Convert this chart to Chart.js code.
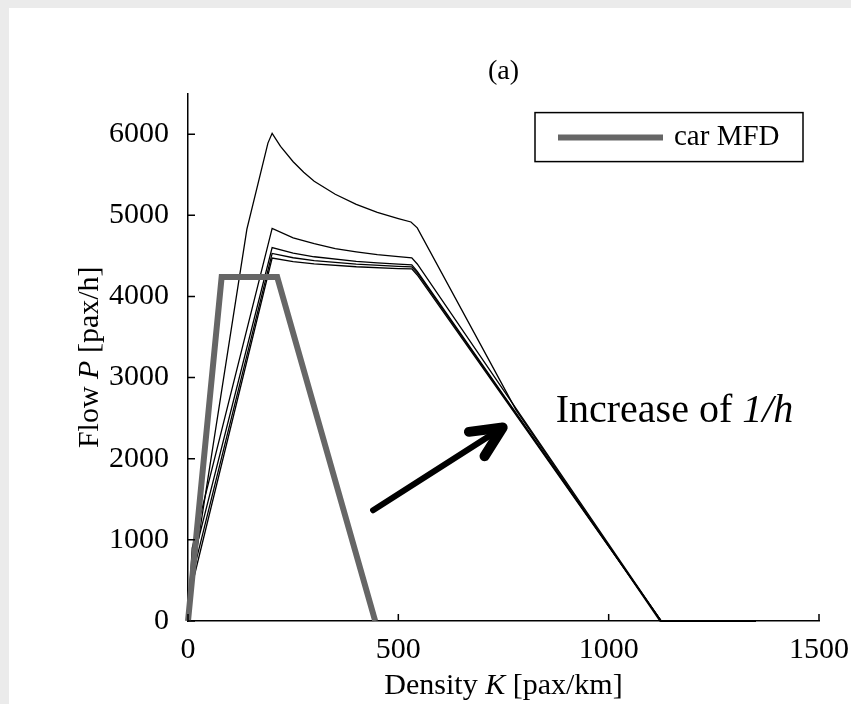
<!DOCTYPE html>
<html>
<head>
<meta charset="utf-8">
<script src="https://cdn.jsdelivr.net/npm/chart.js@4.4.1/dist/chart.umd.min.js"></script>
<style>
html, body { margin: 0; padding: 0; background: #ebebeb; width: 851px; height: 704px; overflow: hidden; }
#panel { position: absolute; left: 9px; top: 8px; width: 842px; height: 696px; background: #fff; }
</style>
</head>
<body>
<div id="panel"><canvas id="myChart" width="842" height="696"></canvas></div>
<script>
const xTicks = [0, 500, 1000, 1500];
const yTicks = [0, 1000, 2000, 3000, 4000, 5000, 6000];

// car MFD (grey trapezoid)
const carK = [0, 80, 212, 445];
const carP = [0, 4240, 4240, 0];

// passenger MFD curves, one per value of 1/h
const k1 = [0, 8, 140, 190, 200, 220, 250, 275, 300, 350, 400, 450, 500, 530, 545, 780, 1122, 1350];
const p1 = [0, 450, 4830, 5890, 6010, 5850, 5660, 5530, 5420, 5260, 5135, 5035, 4960, 4918, 4845, 2600, 0, 0];
const k2 = [0, 10, 200, 250, 300, 350, 400, 450, 500, 532, 545, 1125, 1350];
const p2 = [0, 900, 4840, 4723, 4650, 4590, 4550, 4515, 4490, 4476, 4400, 0, 0];
const k3 = [0, 10, 200, 250, 300, 400, 450, 500, 532, 545, 1125, 1350];
const p3 = [0, 700, 4603, 4535, 4489, 4432, 4413, 4398, 4390, 4310, 0, 0];
const k4 = [0, 10, 200, 250, 300, 400, 500, 532, 545, 1125, 1350];
const p4 = [0, 550, 4530, 4477, 4442, 4398, 4371, 4365, 4290, 0, 0];
const k5 = [0, 10, 200, 250, 300, 400, 500, 532, 545, 1125, 1350];
const p5 = [0, 450, 4473, 4430, 4401, 4366, 4344, 4340, 4265, 0, 0];

const serif = "'Liberation Serif', 'Times New Roman', serif";
Chart.defaults.font.family = serif;
Chart.defaults.font.size = 30;
Chart.defaults.color = '#000';

const toPoints = (ks, ps) => ks.map((k, i) => ({ x: k, y: ps[i] }));

function blackLine(ks, ps, name) {
    return {
        label: name,
        data: toPoints(ks, ps),
        borderColor: '#000',
        borderWidth: 1.3,
        pointRadius: 0,
        tension: 0,
        clip: false
    };
}

// text with italic pieces, parts = [[text, italic], ...]
function drawParts(ctx, parts, x, y, size, align) {
    const fonts = parts.map(p => (p[1] ? 'italic ' : '') + size + 'px ' + serif);
    let w = 0;
    parts.forEach((p, i) => { ctx.font = fonts[i]; w += ctx.measureText(p[0]).width; });
    let cx = align === 'center' ? x - w / 2 : x;
    ctx.textAlign = 'left';
    ctx.textBaseline = 'middle';
    parts.forEach((p, i) => {
        ctx.font = fonts[i];
        ctx.fillText(p[0], cx, y);
        cx += ctx.measureText(p[0]).width;
    });
}

const arrowFrom = [440, 1365];
const arrowTo = [748, 2385];
const notePos = [874, 2580];

const extras = {
    id: 'extras',
    afterDraw(chart) {
        const { ctx, chartArea: a, scales: { x, y } } = chart;
        ctx.save();
        ctx.fillStyle = '#000';
        ctx.strokeStyle = '#000';

        // ticks pointing inside
        ctx.lineWidth = 1.5;
        ctx.beginPath();
        xTicks.forEach(v => {
            const px = x.getPixelForValue(v);
            ctx.moveTo(px, a.bottom);
            ctx.lineTo(px, a.bottom - 7);
        });
        yTicks.forEach(v => {
            const py = y.getPixelForValue(v);
            ctx.moveTo(a.left, py);
            ctx.lineTo(a.left + 7, py);
        });
        ctx.stroke();

        // axis titles
        drawParts(ctx, [['Density ', 0], ['K', 1], [' [pax/km]', 0]], (a.left + a.right) / 2, 678, 30, 'center');
        ctx.save();
        ctx.translate(81, (a.top + a.bottom) / 2);
        ctx.rotate(-Math.PI / 2);
        drawParts(ctx, [['Flow ', 0], ['P', 1], [' [pax/h]', 0]], 0, 0, 30, 'center');
        ctx.restore();

        // legend
        const car = chart.data.datasets[0];
        const lx = a.right - 284, ly = a.top + 19;
        ctx.fillStyle = '#fff';
        ctx.fillRect(lx, ly, 268, 49);
        ctx.lineWidth = 1.5;
        ctx.strokeRect(lx, ly, 268, 49);
        ctx.strokeStyle = car.borderColor;
        ctx.lineWidth = car.borderWidth;
        ctx.beginPath();
        ctx.moveTo(lx + 23, ly + 25);
        ctx.lineTo(lx + 128, ly + 25);
        ctx.stroke();
        ctx.fillStyle = '#000';
        drawParts(ctx, [[car.label, 0]], lx + 139, ly + 25, 29, 'left');

        // arrow
        const x0 = x.getPixelForValue(arrowFrom[0]), y0 = y.getPixelForValue(arrowFrom[1]);
        const x1 = x.getPixelForValue(arrowTo[0]), y1 = y.getPixelForValue(arrowTo[1]);
        const ang = Math.atan2(y1 - y0, x1 - x0);
        ctx.strokeStyle = '#000';
        ctx.lineCap = 'round';
        ctx.lineWidth = 6;
        ctx.beginPath();
        ctx.moveTo(x0, y0);
        ctx.lineTo(x1 - 4 * Math.cos(ang), y1 - 4 * Math.sin(ang));
        ctx.stroke();
        ctx.lineWidth = 10;
        ctx.beginPath();
        [0.44, -0.44].forEach(d => {
            ctx.moveTo(x1, y1);
            ctx.lineTo(x1 - 34 * Math.cos(ang + d), y1 - 34 * Math.sin(ang + d));
        });
        ctx.stroke();

        drawParts(ctx, [['Increase of ', 0], ['1/h', 1]],
            x.getPixelForValue(notePos[0]), y.getPixelForValue(notePos[1]), 40, 'left');
        ctx.restore();
    }
};

const noPad = s => { s.paddingLeft = 0; s.paddingRight = 0; s.paddingTop = 0; s.paddingBottom = 0; };

const ctx = document.getElementById('myChart').getContext('2d');
const myChart = new Chart(ctx, {
    type: 'line',
    data: {
        datasets: [
            {
                label: 'car MFD',
                data: toPoints(carK, carP),
                borderColor: '#666666',
                borderWidth: 6,
                borderJoinStyle: 'miter',
                pointRadius: 0,
                tension: 0,
                clip: false
            },
            blackLine(k1, p1, '1'),
            blackLine(k2, p2, '2'),
            blackLine(k3, p3, '3'),
            blackLine(k4, p4, '4'),
            blackLine(k5, p5, '5')
        ]
    },
    options: {
        responsive: false,
        animation: false,
        events: [],
        layout: { padding: { left: 0, right: 32, top: 0, bottom: 0 } },
        plugins: {
            legend: { display: false },
            tooltip: { enabled: false },
            title: {
                display: true,
                text: '(a)',
                fullSize: false,
                font: { size: 28, weight: 'normal' },
                padding: { top: 47, bottom: 5 }
            }
        },
        scales: {
            x: {
                type: 'linear',
                min: 0,
                max: 1500,
                afterBuildTicks: s => { s.ticks = xTicks.map(v => ({ value: v })); },
                afterFit: s => { s.height = 83; noPad(s); },
                ticks: { padding: 3, maxRotation: 0, callback: v => String(v) },
                grid: { display: false },
                border: { display: true, color: '#000', width: 1.5 }
            },
            y: {
                type: 'linear',
                min: 0,
                max: 6500,
                afterBuildTicks: s => { s.ticks = yTicks.map(v => ({ value: v })); },
                afterFit: s => { s.width = 179; noPad(s); },
                ticks: { padding: 11, callback: v => String(v) },
                grid: { display: false },
                border: { display: true, color: '#000', width: 1.5 }
            }
        }
    },
    plugins: [extras]
});
</script>
</body>
</html>
